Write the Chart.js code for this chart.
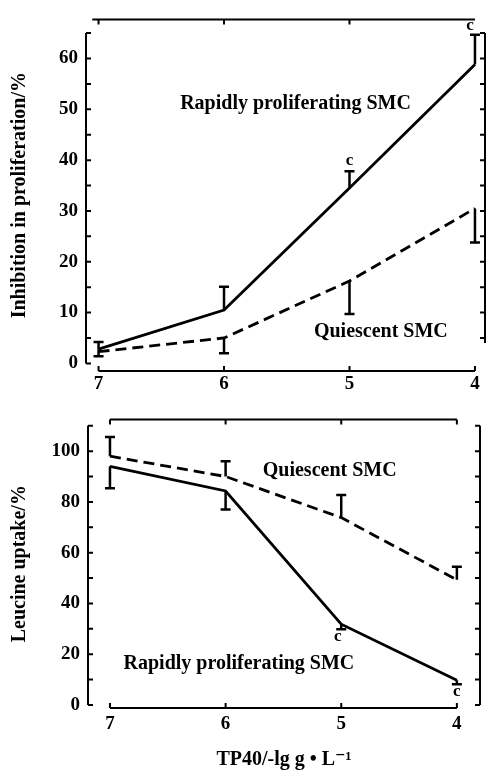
<!DOCTYPE html>
<html>
<head>
<meta charset="UTF-8" />
<title>TP40 and SMC</title>
<script src="https://cdn.jsdelivr.net/npm/chart.js"></script>
<style>
  body { margin: 0; background: #fff; }
  #wrap { position: relative; width: 497px; height: 775px; }
  canvas { position: absolute; left: 0; }
  #topChart { top: 0; }
  #bottomChart { top: 400px; }
</style>
</head>
<body>
<div id="wrap">
  <canvas id="topChart" width="497" height="400"></canvas>
  <canvas id="bottomChart" width="497" height="375"></canvas>
</div>
<script>
// TP40 dose, -lg g/L
const doses = [7, 6, 5, 4];

// top panel: inhibition in proliferation (%)
const inhibRapid = [2.8, 10.5, 34.5, 58.8];
const inhibRapidHi = [4.2, 15.1, 37.8, 64.7];
const inhibRapidLo = [1.4, null, null, null];
const inhibQuiet = [2.3, 5.0, 16.2, 30.5];
const inhibQuietLo = [null, 2.0, 9.7, 23.8];
const inhibTicks = [0, 10, 20, 30, 40, 50, 60];

// bottom panel: leucine uptake (%)
const leuRapid = [94, 84.3, 31.8, 9.7];
const leuRapidLo = [85.4, 77, 29.8, 8.2];
const leuQuiet = [98, 90, 73.8, 49.3];
const leuQuietHi = [105.6, 96, 82.7, 54.4];
const leuTicks = [0, 20, 40, 60, 80, 100];

const serif = '"Liberation Serif", "DejaVu Serif", serif';

function pts(vals) {
  return doses.map((d, i) => ({ x: d, y: vals[i] }));
}

function range(a, b, step) {
  const out = [];
  for (let v = a; v <= b + 1e-9; v += step) out.push(v);
  return out;
}

// frame, error bars and text drawn on top of the library scales
const sketch = {
  id: "sketch",
  afterDatasetsDraw(chart, args, o) {
    const ctx = chart.ctx;
    const xs = chart.scales.x, ys = chart.scales.y;
    const area = chart.chartArea;
    ctx.save();
    ctx.strokeStyle = "#000";
    ctx.fillStyle = "#000";
    ctx.lineWidth = 2;

    // left and right axes
    [["left", 5], ["right", -5]].forEach(([side, dir]) => {
      const f = o.frame[side];
      const x = area[side];
      ctx.beginPath();
      ctx.moveTo(x, ys.getPixelForValue(f.from));
      ctx.lineTo(x, ys.getPixelForValue(f.to));
      f.ticks.forEach((v) => {
        const y = ys.getPixelForValue(v);
        ctx.moveTo(x, y);
        ctx.lineTo(x + dir, y);
      });
      ctx.stroke();
    });
    // top and bottom lines
    [["top", 5], ["bottom", -5]].forEach(([side, dir]) => {
      const f = o.frame[side];
      const y = area[side];
      ctx.beginPath();
      ctx.moveTo(xs.getPixelForValue(f.from), y);
      ctx.lineTo(xs.getPixelForValue(f.to), y);
      f.ticks.forEach((v) => {
        const x = xs.getPixelForValue(v);
        ctx.moveTo(x, y);
        ctx.lineTo(x, y + dir);
      });
      ctx.stroke();
    });

    // error bars
    ctx.lineWidth = 2.5;
    o.errors.forEach((e) => {
      doses.forEach((d, i) => {
        [e.hi, e.lo].forEach((arr) => {
          if (!arr || arr[i] == null) return;
          const x = xs.getPixelForValue(d);
          const y0 = ys.getPixelForValue(e.mean[i]);
          const y1 = ys.getPixelForValue(arr[i]);
          ctx.beginPath();
          ctx.moveTo(x, y0);
          ctx.lineTo(x, y1);
          ctx.moveTo(x - 5, y1);
          ctx.lineTo(x + 5, y1);
          ctx.stroke();
        });
      });
    });

    // labels
    ctx.textAlign = "center";
    ctx.textBaseline = "middle";
    o.labels.forEach((l) => {
      ctx.font = "bold " + l.size + "px " + serif;
      ctx.fillText(l.text, xs.getPixelForValue(l.x), ys.getPixelForValue(l.y));
    });
    ctx.restore();
  },
};

function panel(id, p) {
  const tickFont = { family: serif, size: 19, weight: "bold" };
  const titleFont = { family: serif, size: 20, weight: "bold" };
  return new Chart(document.getElementById(id), {
    type: "line",
    data: {
      datasets: [
        {
          label: "Rapidly proliferating SMC",
          data: pts(p.rapid),
          borderColor: "#000",
          borderWidth: 2.8,
          pointRadius: 0,
        },
        {
          label: "Quiescent SMC",
          data: pts(p.quiet),
          borderColor: "#000",
          borderWidth: 2.8,
          borderDash: [11, 6],
          pointRadius: 0,
        },
      ],
    },
    options: {
      responsive: false,
      animation: false,
      events: [],
      layout: { padding: { top: p.padTop, right: p.padRight, bottom: 0, left: 0 } },
      plugins: {
        legend: { display: false },
        tooltip: { enabled: false },
        sketch: { frame: p.frame, errors: p.errors, labels: p.labels },
      },
      scales: {
        x: {
          type: "linear",
          reverse: true,
          min: p.xMin,
          max: p.xMax,
          grid: { display: false, drawTicks: false },
          border: { display: false },
          afterBuildTicks: (s) => { s.ticks = doses.map((v) => ({ value: v })); },
          afterFit: (s) => { s.height = p.xH; },
          ticks: { font: tickFont, color: "#000", padding: p.xPad },
          title: p.xTitle
            ? { display: true, text: p.xTitle, font: titleFont, color: "#000", padding: { bottom: 3 } }
            : { display: false },
        },
        y: {
          type: "linear",
          min: p.yMin,
          max: p.yMax,
          grid: { display: false, drawTicks: false },
          border: { display: false },
          afterBuildTicks: (s) => { s.ticks = p.yTicks.map((v) => ({ value: v })); },
          afterFit: (s) => { s.width = p.yW; },
          ticks: { font: tickFont, color: "#000", padding: 8 },
          title: { display: true, text: p.yTitle, font: titleFont, color: "#000", padding: { top: 8 } },
        },
      },
    },
    plugins: [sketch],
  });
}

panel("topChart", {
  rapid: inhibRapid,
  quiet: inhibQuiet,
  xMin: 3.92, xMax: 7.1,
  yMin: -1.5, yMax: 67.7,
  yTicks: inhibTicks,
  yW: 86, xH: 29, xPad: 2,
  padTop: 8, padRight: 12,
  yTitle: "Inhibition in proliferation/%",
  frame: {
    left: { from: 0, to: 65, ticks: range(0, 65, 5) },
    right: { from: 4, to: 65, ticks: range(5, 65, 5) },
    top: { from: 7.05, to: 4, ticks: [7, 6, 5] },
    bottom: { from: 7, to: 4, ticks: doses },
  },
  errors: [
    { mean: inhibRapid, hi: inhibRapidHi, lo: inhibRapidLo },
    { mean: inhibQuiet, lo: inhibQuietLo },
  ],
  labels: [
    { text: "Rapidly proliferating SMC", x: 5.43, y: 51.1, size: 20 },
    { text: "Quiescent SMC", x: 4.75, y: 6.3, size: 20 },
    { text: "c", x: 5.0, y: 39.9, size: 17 },
    { text: "c", x: 4.04, y: 66.5, size: 17 },
  ],
});

panel("bottomChart", {
  rapid: leuRapid,
  quiet: leuQuiet,
  xMin: 3.8, xMax: 7.19,
  yMin: -1.2, yMax: 112.5,
  yTicks: leuTicks,
  yW: 88, xH: 67, xPad: 5,
  padTop: 16, padRight: 17,
  yTitle: "Leucine uptake/%",
  xTitle: "TP40/-lg g \u2022 L\u207B\u00B9",
  frame: {
    left: { from: 0, to: 110, ticks: range(0, 110, 10) },
    right: { from: 0, to: 110, ticks: range(0, 110, 10) },
    top: { from: 7, to: 4, ticks: doses },
    bottom: { from: 7, to: 4, ticks: doses },
  },
  errors: [
    { mean: leuRapid, lo: leuRapidLo },
    { mean: leuQuiet, hi: leuQuietHi },
  ],
  labels: [
    { text: "Quiescent SMC", x: 5.1, y: 92.2, size: 20 },
    { text: "Rapidly proliferating SMC", x: 5.885, y: 16.3, size: 20 },
    { text: "c", x: 5.03, y: 27.0, size: 17 },
    { text: "c", x: 4.0, y: 5.4, size: 17 },
  ],
});
</script>
</body>
</html>
